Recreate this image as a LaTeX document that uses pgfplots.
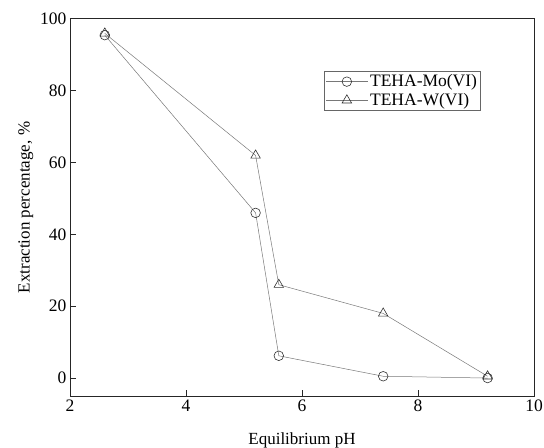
\documentclass[border=0pt]{standalone}
\usepackage{fontspec}
\setmainfont{Liberation Serif}
\usepackage{pgfplots}
\pgfplotsset{compat=1.18}
\definecolor{lc}{RGB}{120,120,120}
\definecolor{mc}{RGB}{50,50,50}
\begin{document}
\begin{tikzpicture}
\useasboundingbox (-70bp,-52bp) rectangle (474bp,396bp);
\begin{axis}[
  at={(0,0)}, anchor=south west,
  scale only axis, width=464bp, height=377bp,
  xmin=2, xmax=10, ymin=-5, ymax=100,
  xtick={2,4,6,8,10}, ytick={0,20,40,60,80,100},
  xticklabels={2,4,6,8,10}, yticklabels={0,20,40,60,80,100},
  tick align=inside, xtick pos=bottom, ytick pos=left,
  major tick length=6bp,
  minor tick num=0,
  tick label style={font=\fontsize{17.5bp}{20bp}\selectfont},
  label style={font=\fontsize{17bp}{20bp}\selectfont},
  xlabel={Equilibrium pH},
  xlabel style={yshift=-15bp},
  ylabel={Extraction percentage, \%},
  axis line style={line width=1pt, black!85},
  every tick/.style={line width=1pt, black!85},
  legend style={at={(0.547,0.862)}, anchor=north west,
    font=\fontsize{17.5bp}{20bp}\selectfont, draw=black!60, line width=0.6pt,
    inner sep=1.5bp, row sep=1bp},
  legend cell align=left,
  legend image code/.code={%
    \draw[mark repeat=2,mark phase=2,#1] plot coordinates {(0bp,0bp) (21bp,0bp) (42bp,0bp)};},
]
\addplot[color=lc, line width=0.5pt, mark=o, mark size=4.8bp,
  mark options={draw=mc, fill=white, line width=0.6pt}]
  coordinates {(2.6,95.5) (5.2,46) (5.6,6.2) (7.4,0.5) (9.2,0)};
\addlegendentry{TEHA-Mo(VI)}
\addplot[color=lc, line width=0.5pt, mark=triangle, mark size=5.5bp,
  mark options={draw=mc, fill=white, line width=0.6pt}]
  coordinates {(2.6,96) (5.2,62) (5.6,26) (7.4,18) (9.2,0.5)};
\addlegendentry{TEHA-W(VI)}
\end{axis}
\end{tikzpicture}
\end{document}
